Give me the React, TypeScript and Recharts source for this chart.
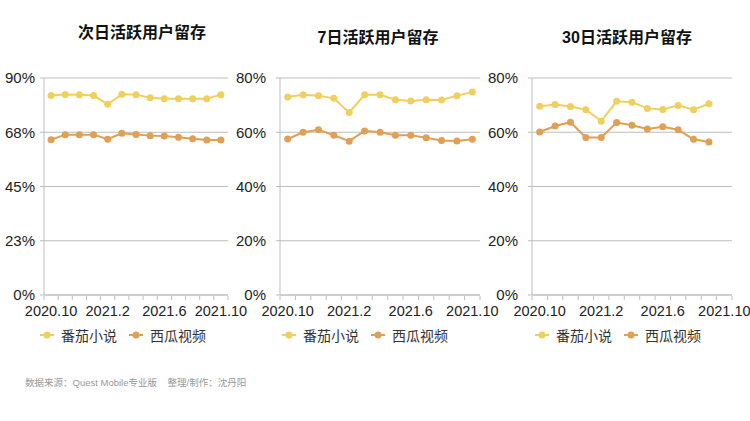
import React from 'react';
import { LineChart, Line, XAxis, YAxis, CartesianGrid, Legend } from 'recharts';

const months = [
  '2020.10', '2020.11', '2020.12', '2021.1', '2021.2', '2021.3', '2021.4',
  '2021.5', '2021.6', '2021.7', '2021.8', '2021.9', '2021.10',
];

// 次日
const fanqieDay1 = [82.7, 83.2, 83.1, 82.7, 79.1, 83.3, 83.1, 81.8, 81.4, 81.4, 81.4, 81.4, 83.1];
const xiguaDay1 = [64.4, 66.5, 66.5, 66.5, 64.6, 67.1, 66.6, 66.1, 65.9, 65.4, 64.8, 64.3, 64.3];
// 7日
const fanqieDay7 = [73.0, 73.8, 73.5, 72.5, 67.3, 73.8, 73.8, 72.0, 71.5, 72.0, 71.9, 73.5, 74.8];
const xiguaDay7 = [57.5, 60.0, 60.9, 58.9, 56.7, 60.5, 60.0, 58.9, 58.9, 58.0, 57.0, 56.8, 57.4];
// 30日 (2021.10 not yet available)
const fanqieDay30 = [69.6, 70.2, 69.5, 68.3, 64.1, 71.4, 71.1, 68.8, 68.4, 69.9, 68.3, 70.5, null];
const xiguaDay30 = [60.1, 62.3, 63.7, 58.1, 58.1, 63.6, 62.6, 61.2, 62.0, 60.9, 57.4, 56.4, null];

const ticks90 = [0, 22.5, 45, 67.5, 90];
const ticks80 = [0, 20, 40, 60, 80];
const edgeTicks = [0, 1, 2, 3, 4, 5, 6, 7, 8, 9, 10, 11, 12, 13];

const YELLOW = '#F1CF5F';
const ORANGE = '#DFA055';
const GRID = '#bdbdbd';
const FONT = '"Liberation Sans", "Noto Sans CJK SC", sans-serif';

const buildRows = (a: (number | null)[], b: (number | null)[]) =>
  months.map((m, i) => ({ month: m, idx: i + 0.5, fanqie: a[i], xigua: b[i] }));

const LegendContent = () => (
  <div style={{ display: 'flex', alignItems: 'center', fontFamily: FONT, fontSize: 14, color: '#333' }}>
    {[
      { name: '番茄小说', color: YELLOW },
      { name: '西瓜视频', color: ORANGE },
    ].map((item) => (
      <div key={item.name} style={{ display: 'flex', alignItems: 'center', marginRight: 12 }}>
        <svg width={14} height={10} style={{ marginRight: 7 }}>
          <line x1={0} y1={5} x2={14} y2={5} stroke={item.color} strokeWidth={2} />
          <circle cx={7} cy={5} r={3.5} fill={item.color} />
        </svg>
        <span>{item.name}</span>
      </div>
    ))}
  </div>
);

interface PanelProps {
  title: string;
  titleTop: number;
  titleCenter: number;
  left: number;
  rows: any[];
  max: number;
  ticks: number[];
  yWidth: number;
  yMargin: number;
  plotWidth: number;
  legendLeft: number;
}

const Panel: React.FC<PanelProps> = ({ title, titleTop, titleCenter, left, rows, max, ticks, yWidth, yMargin, plotWidth, legendLeft }) => {
  const rightPad = 24;
  const chartW = yWidth + plotWidth + rightPad;
  return (
    <>
      <div
        style={{
          position: 'absolute', top: titleTop, left: titleCenter - 100, width: 200,
          textAlign: 'center', fontFamily: FONT, fontWeight: 'bold', fontSize: 16, color: '#111',
        }}
      >
        {title}
      </div>
      <div style={{ position: 'absolute', top: 60, left }}>
        <LineChart width={chartW} height={300} data={rows} margin={{ top: 18, right: rightPad, bottom: 63, left: 0 }}>
          <CartesianGrid vertical={false} stroke={GRID} />
          <XAxis
            dataKey="month"
            scale="band"
            height={1}
            axisLine={{ stroke: GRID }}
            tickLine={false}
            tickSize={0}
            tickMargin={11}
            interval={3}
            tick={{ fill: '#222', fontSize: 14.5, fontFamily: FONT }}
          />
          <XAxis
            xAxisId="edge"
            dataKey="idx"
            type="number"
            domain={[0, 13]}
            ticks={edgeTicks}
            height={1}
            axisLine={false}
            tickLine={{ stroke: GRID }}
            tickSize={4}
            tickFormatter={() => ''}
          />
          <YAxis
            type="number"
            domain={[0, max]}
            ticks={ticks}
            width={yWidth}
            axisLine={{ stroke: GRID }}
            tickLine={{ stroke: GRID }}
            tickSize={4}
            tickMargin={yMargin}
            tickFormatter={(v: number) => `${Math.round(v)}%`}
            tick={{ fill: '#222', fontSize: 15, fontFamily: FONT }}
          />
          <Line
            dataKey="fanqie"
            name="番茄小说"
            stroke={YELLOW}
            strokeWidth={2}
            dot={{ r: 3.5, fill: YELLOW, stroke: YELLOW, strokeWidth: 0 }}
            isAnimationActive={false}
          />
          <Line
            dataKey="xigua"
            name="西瓜视频"
            stroke={ORANGE}
            strokeWidth={2}
            dot={{ r: 3.5, fill: ORANGE, stroke: ORANGE, strokeWidth: 0 }}
            isAnimationActive={false}
          />
          <Legend
            layout="horizontal"
            verticalAlign="middle"
            align="center"
            content={<LegendContent />}
            wrapperStyle={{ top: 265, left: legendLeft, width: 'auto' }}
          />
        </LineChart>
      </div>
    </>
  );
};

export default function App() {
  return (
    <div style={{ position: 'absolute', top: 0, left: 0, width: 750, height: 421, background: '#fff', fontFamily: FONT }}>
      <Panel
        title="次日活跃用户留存"
        titleTop={19}
        titleCenter={142}
        left={0}
        rows={buildRows(fanqieDay1, xiguaDay1)}
        max={90}
        ticks={ticks90}
        yWidth={44}
        yMargin={5}
        plotWidth={184}
        legendLeft={40}
      />
      <Panel
        title="7日活跃用户留存"
        titleTop={24}
        titleCenter={378}
        left={236}
        rows={buildRows(fanqieDay7, xiguaDay7)}
        max={80}
        ticks={ticks80}
        yWidth={44}
        yMargin={10}
        plotWidth={200}
        legendLeft={46}
      />
      <Panel
        title="30日活跃用户留存"
        titleTop={24}
        titleCenter={627}
        left={488}
        rows={buildRows(fanqieDay30, xiguaDay30)}
        max={80}
        ticks={ticks80}
        yWidth={44}
        yMargin={10}
        plotWidth={200}
        legendLeft={47}
      />
      <div style={{ position: 'absolute', top: 375, left: 25, fontSize: 9.5, color: '#999', fontFamily: FONT }}>
        数据来源：Quest Mobile专业版&nbsp;&nbsp;&nbsp;&nbsp;整理/制作：沈丹阳
      </div>
    </div>
  );
}
